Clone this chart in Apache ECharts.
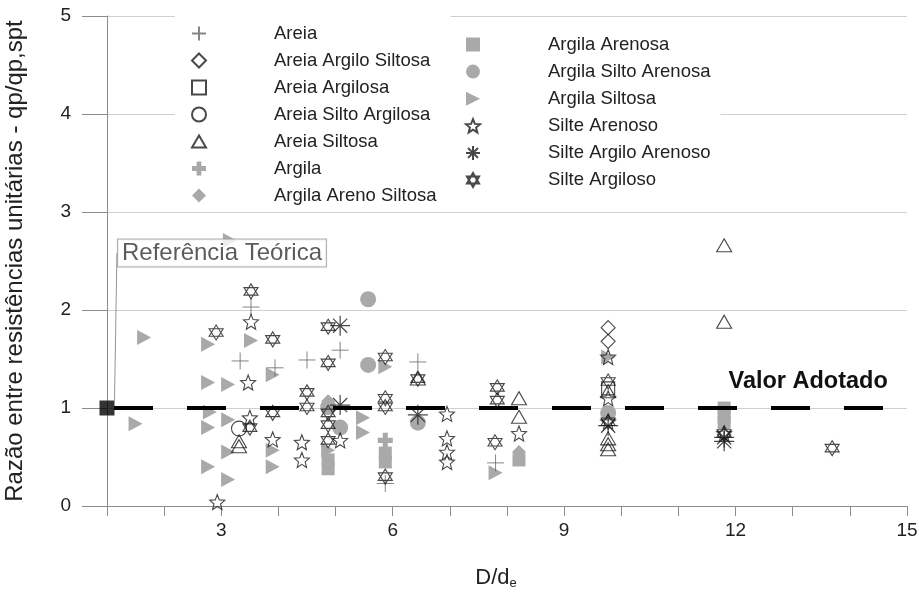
<!DOCTYPE html>
<html><head><meta charset="utf-8">
<script src="https://cdn.jsdelivr.net/npm/echarts@6/dist/echarts.min.js"></script>
<style>html,body{margin:0;padding:0;background:#fff}#c{width:919px;height:594px}</style>
</head><body><div id="c"></div>
<script>
// ---------- data (x = D/de, y = qp/qp,spt) ----------
const xTicks = [3, 6, 9, 12, 15];
const areia = [[3.52,2.03],[3.33,1.48],[3.94,1.41],[4.5,1.49],[5.08,1.59],[5.87,0.23],[6.44,1.47],[7.8,0.44]];
const areiaArgiloSiltosa = [[9.77,1.82],[9.77,1.68]];
const areiaArgilosa = [[9.77,1.20]];
const areiaSiltoArgilosa = [[3.31,0.79]];
const areiaSiltosa = [[3.31,0.66],[3.31,0.61],[6.44,1.30],[8.21,1.10],[8.21,0.91],[9.77,1.17],[9.77,0.69],[9.77,0.63],[9.77,0.58],[11.8,2.66],[11.8,1.88]];
const argila = [[5.87,0.67]];
const argilaArenoSiltosa = [[4.87,1.07],[8.21,0.55]];
const argilaArenosa = [[4.87,0.47],[4.87,0.38],[5.87,0.54],[5.87,0.45],[8.21,0.47],[11.8,1.00],[11.8,0.92],[11.8,0.85]];
const argilaSiltoArenosa = [[5.57,2.11],[5.57,1.44],[4.87,1.01],[5.08,0.80],[6.44,0.85],[9.77,0.95]];
const argilaSiltosa = [[1.65,1.72],[1.5,0.84],[3.15,2.71],[2.77,1.65],[2.77,1.26],[3.12,1.24],[2.8,0.96],[3.12,0.88],[2.77,0.80],[3.12,0.55],[2.77,0.40],[3.12,0.27],[3.52,1.69],[3.9,1.34],[3.9,0.57],[3.9,0.40],[4.87,0.57],[5.48,0.90],[5.48,0.75],[5.87,1.42],[7.8,0.34],[9.77,1.52]];
const silteArenoso = [[2.93,0.04],[3.47,1.26],[3.52,1.88],[3.5,0.90],[3.9,0.68],[4.41,0.65],[4.41,0.47],[5.08,0.67],[6.95,0.94],[6.95,0.69],[6.95,0.55],[6.95,0.45],[8.21,0.74],[9.77,1.52],[9.77,1.10],[9.77,0.86],[11.8,0.74]];
const silteArgiloArenoso = [[5.08,1.84],[5.08,1.03],[6.44,0.93],[9.77,0.82],[11.8,0.70],[11.8,0.66]];
const silteArgiloso = [[2.91,1.77],[3.52,2.19],[3.9,1.70],[3.5,0.80],[3.9,0.95],[4.5,1.16],[4.5,1.01],[4.87,1.83],[4.87,1.46],[4.87,0.95],[4.87,0.83],[4.87,0.67],[5.87,1.52],[5.87,1.10],[5.87,1.01],[5.87,0.30],[6.44,1.30],[7.83,1.21],[7.83,1.08],[7.79,0.65],[9.77,1.27],[9.77,0.86],[11.8,0.74],[13.69,0.59]];
const referencia = [[1, 1]];
const valorAdotadoX = [1, 14.7];
const valorAdotadoY = 1;

// ---------- symbols ----------
function starPath(n, R, r) {
  let d = '';
  for (let i = 0; i < 2 * n; i++) {
    const rad = (i % 2 === 0) ? R : r;
    const a = -Math.PI / 2 + i * Math.PI / n;
    const x = (R + rad * Math.cos(a)).toFixed(3), y = (R + rad * Math.sin(a)).toFixed(3);
    d += (i === 0 ? 'M' : 'L') + x + ',' + y;
  }
  return 'path://' + d + 'Z';
}
const SYM = {
  plus: 'path://M0,5L10,5M5,0L5,10',
  diamond: 'path://M5,0L10,5L5,10L0,5Z',
  square: 'path://M0,0L10,0L10,10L0,10Z',
  circle: 'path://M5,0A5,5,0,1,1,4.999,0Z',
  triangle: 'path://M5,0L10,8.66L0,8.66Z',
  plusFill: 'path://M3.3,0L6.7,0L6.7,3.3L10,3.3L10,6.7L6.7,6.7L6.7,10L3.3,10L3.3,6.7L0,6.7L0,3.3L3.3,3.3Z',
  right: 'path://M0,0L10,5L0,10Z',
  star: starPath(5, 5, 2.2),
  asterisk: 'path://M5,0L5,10M0,5L10,5M1.46,1.46L8.54,8.54M8.54,1.46L1.46,8.54',
  hexagram: 'path://M5,0L9.33,7.5L0.67,7.5ZM5,10L0.67,2.5L9.33,2.5Z'
};
const GRAY = '#a9a9a9', INK = '#1a1a1a';
const FONT = 'Liberation Sans, Arial, sans-serif';
function hollow(name, data, sym, size, color, bw) {
  return { name, type: 'scatter', data, symbol: sym, symbolSize: size, z: 3,
    itemStyle: { color: 'rgba(0,0,0,0)', borderColor: color || INK, borderWidth: bw || 1.1 } };
}
function filled(name, data, sym, size) {
  return { name, type: 'scatter', data, symbol: sym, symbolSize: size, z: 2,
    itemStyle: { color: GRAY, opacity: 1 } };
}
const leftNames = ['Areia','Areia Argilo Siltosa','Areia Argilosa','Areia Silto Argilosa','Areia Siltosa','Argila','Argila Areno Siltosa'];
const rightNames = ['Argila Arenosa','Argila Silto Arenosa','Argila Siltosa','Silte Arenoso','Silte Argilo Arenoso','Silte Argiloso'];

const series = [
  filled('Argila', argila, SYM.plusFill, 15),
  filled('Argila Areno Siltosa', argilaArenoSiltosa, 'diamond', 14),
  filled('Argila Arenosa', argilaArenosa, 'rect', 13),
  filled('Argila Silto Arenosa', argilaSiltoArenosa, 'circle', 16),
  filled('Argila Siltosa', argilaSiltosa, SYM.right, [14, 15]),
  hollow('Areia', areia, SYM.plus, 17, '#666', 1),
  hollow('Areia Argilo Siltosa', areiaArgiloSiltosa, SYM.diamond, 14),
  hollow('Areia Argilosa', areiaArgilosa, SYM.square, 13),
  hollow('Areia Silto Argilosa', areiaSiltoArgilosa, SYM.circle, 15),
  hollow('Areia Siltosa', areiaSiltosa, SYM.triangle, [15, 13]),
  hollow('Silte Arenoso', silteArenoso, SYM.star, 15),
  hollow('Silte Argilo Arenoso', silteArgiloArenoso, SYM.asterisk, 20, INK, 1.2),
  hollow('Silte Argiloso', silteArgiloso, SYM.hexagram, [14, 15]),
  {
    name: 'Valor Adotado', type: 'line', data: valorAdotadoX.map(x => [x, valorAdotadoY]),
    symbol: 'none', z: 4, silent: true,
    lineStyle: { color: '#000', width: 4, type: [39, 34], dashOffset: 66 },
    markPoint: { symbol: 'rect', symbolSize: 0, silent: true,
      data: [{ coord: [13.27, 1.27], value: 'Valor Adotado' }],
      label: { show: true, position: 'inside', formatter: 'Valor Adotado', color: '#111',
        fontSize: 23.5, fontWeight: 'bold', fontFamily: FONT } }
  },
  {
    name: 'Referência Teórica', type: 'scatter', data: referencia, symbol: 'rect', symbolSize: 15, z: 5,
    itemStyle: { color: '#000' },
    label: { show: true, position: 'inside', formatter: 'Referência Teórica', color: '#333',
      fontSize: 24, fontFamily: FONT,
      backgroundColor: '#fff', borderColor: '#9a9a9a', borderWidth: 1, padding: [2, 4, 1, 4] },
    labelLayout: { dx: 115, dy: -155 },
    labelLine: { show: true, lineStyle: { color: '#777', width: 0.8 } }
  }
];

const legendText = { color: '#222', fontSize: 18.5, fontFamily: FONT, padding: [0, 0, 0, 63] };
const option = {
  backgroundColor: '#fff',
  animation: false,
  textStyle: { fontFamily: FONT },
  grid: { left: 107, right: 12, top: 16, bottom: 88, containLabel: false, outerBoundsMode: 'none' },
  legend: [
    { data: leftNames, orient: 'vertical', left: 175, top: 16, itemWidth: 14, itemHeight: 14, itemGap: 8,
      padding: [8, 14, 4, 16], backgroundColor: '#fff', selectedMode: false, textStyle: legendText, z: 6 },
    { data: rightNames, orient: 'vertical', left: 447, top: 29, itemWidth: 14, itemHeight: 14, itemGap: 8.1,
      padding: [6, 10, 6, 18], backgroundColor: '#fff', selectedMode: false, textStyle: legendText, z: 6 }
  ],
  xAxis: {
    type: 'value', min: 1, max: 15, interval: 1,
    name: 'D/d{sub|e}', nameLocation: 'middle', nameGap: 60,
    nameTextStyle: { color: '#222', fontSize: 22, padding: [0, 22, 0, 0],
      rich: { sub: { fontSize: 13, padding: [11, 0, 0, 0], color: '#222' } } },
    axisLine: { lineStyle: { color: '#8c8c8c', width: 1 } },
    axisTick: { show: true, length: 10, lineStyle: { color: '#8c8c8c' } },
    axisLabel: { color: '#222', fontSize: 19, margin: 15,
      formatter: v => xTicks.indexOf(v) >= 0 ? String(v) : '' },
    splitLine: { show: false }
  },
  yAxis: {
    type: 'value', min: 0, max: 5, interval: 1,
    name: 'Razão entre resistências unitárias - qp/qp,spt', nameLocation: 'middle', nameGap: 80,
    nameTextStyle: { color: '#222', fontSize: 24 },
    axisLine: { show: true, lineStyle: { color: '#8c8c8c', width: 1 } },
    axisTick: { show: true, length: 25, lineStyle: { color: '#8c8c8c' } },
    axisLabel: { color: '#222', fontSize: 19, margin: 36 },
    splitLine: { show: true, lineStyle: { color: '#cfcfcf', width: 1 } }
  },
  series
};
const chart = echarts.init(document.getElementById('c'), null, { renderer: 'canvas' });
chart.setOption(option);
</script>
</body></html>
